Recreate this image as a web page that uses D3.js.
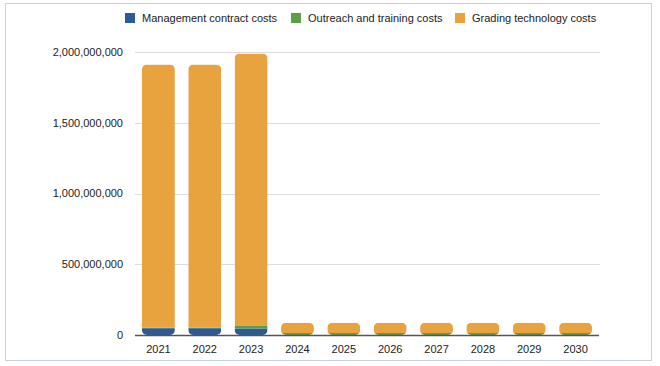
<!DOCTYPE html>
<meta charset="utf-8">
<script src="https://cdnjs.cloudflare.com/ajax/libs/d3/7.8.5/d3.min.js"></script>
<style>
  body { margin: 0; background: #fff; font-family: "Liberation Sans", Arial, sans-serif; }
  text { fill: #222; }
</style>
<body>
<div id="chart"></div>
<script>
  var years = ["2021", "2022", "2023", "2024", "2025", "2026", "2027", "2028", "2029", "2030"];
  var seriesNames = ["Management contract costs", "Outreach and training costs", "Grading technology costs"];
  var management = [48000000, 48000000, 46000000, 0, 0, 0, 0, 0, 0, 0];
  var outreach = [3000000, 3000000, 18000000, 14000000, 14000000, 14000000, 14000000, 14000000, 14000000, 14000000];
  var grading = [1860000000, 1860000000, 1925000000, 72000000, 72000000, 72000000, 72000000, 72000000, 72000000, 72000000];
  var yTicks = [0, 500000000, 1000000000, 1500000000, 2000000000];
  var colors = ["#2c5a95", "#5b9d48", "#e8a33e"];

  var WIDTH = 660, HEIGHT = 366;
  var svg = d3.select("#chart").append("svg")
    .attr("width", WIDTH)
    .attr("height", HEIGHT);

  // frame
  svg.append("rect")
    .attr("x", 5.5).attr("y", 3.5)
    .attr("width", 646).attr("height", 357)
    .attr("fill", "none")
    .attr("stroke", "#c9d2dc");

  var rows = years.map(function(y, i) {
    return { year: y, m: management[i], o: outreach[i], g: grading[i] };
  });
  var stack = d3.stack().keys(["m", "o", "g"])(rows);

  var x = d3.scaleBand().domain(years).range([135, 599]).paddingInner(0.29).paddingOuter(0.15);
  var y = d3.scaleLinear().domain([0, 2000000000]).range([335, 52]);

  // gridlines
  svg.append("g").selectAll("line").data(yTicks.slice(1)).enter().append("line")
    .attr("x1", 135).attr("x2", 600)
    .attr("y1", function(d) { return Math.round(y(d)) + 0.5; })
    .attr("y2", function(d) { return Math.round(y(d)) + 0.5; })
    .attr("stroke", "#dcdcdc");

  // y labels
  svg.append("g").selectAll("text").data(yTicks).enter().append("text")
    .attr("x", 123)
    .attr("y", function(d) { return y(d); })
    .attr("dy", "0.35em")
    .attr("text-anchor", "end")
    .style("font-size", "11px")
    .text(function(d) { return d3.format(",")(d); });

  // bars, clipped to one rounded rect per stack
  var defs = svg.append("defs");
  years.forEach(function(yr, i) {
    var top = stack[2][i][1];
    defs.append("clipPath").attr("id", "clip" + i)
      .append("rect")
      .attr("x", x(yr)).attr("width", x.bandwidth())
      .attr("y", y(top)).attr("height", y(0) - y(top))
      .attr("rx", 5).attr("ry", 5);
  });

  stack.forEach(function(s, k) {
    svg.append("g").attr("fill", colors[k]).selectAll("rect").data(s).enter().append("rect")
      .attr("clip-path", function(d, i) { return "url(#clip" + i + ")"; })
      .attr("x", function(d) { return x(d.data.year); })
      .attr("width", x.bandwidth())
      .attr("y", function(d) { return y(d[1]); })
      .attr("height", function(d) { return Math.max(0, y(d[0]) - y(d[1])); });
  });

  // baseline
  svg.append("line")
    .attr("x1", 135).attr("x2", 599)
    .attr("y1", 335.5).attr("y2", 335.5)
    .attr("stroke", "#555").attr("stroke-width", 1.3);

  // x labels
  svg.append("g").selectAll("text").data(years).enter().append("text")
    .attr("x", function(d) { return x(d) + x.bandwidth() / 2; })
    .attr("y", 349)
    .attr("dy", "0.35em")
    .attr("text-anchor", "middle")
    .style("font-size", "11px")
    .text(function(d) { return d; });

  // legend
  var legendX = [125, 291, 455];
  var legend = svg.append("g").selectAll("g").data(seriesNames).enter().append("g")
    .attr("transform", function(d, i) { return "translate(" + legendX[i] + ",18)"; });
  legend.append("rect")
    .attr("x", 0).attr("y", -5).attr("width", 10).attr("height", 10)
    .attr("fill", function(d, i) { return colors[i]; });
  legend.append("text")
    .attr("x", 17).attr("dy", "0.35em")
    .style("font-size", "11px")
    .text(function(d) { return d; });
</script>
</body>
